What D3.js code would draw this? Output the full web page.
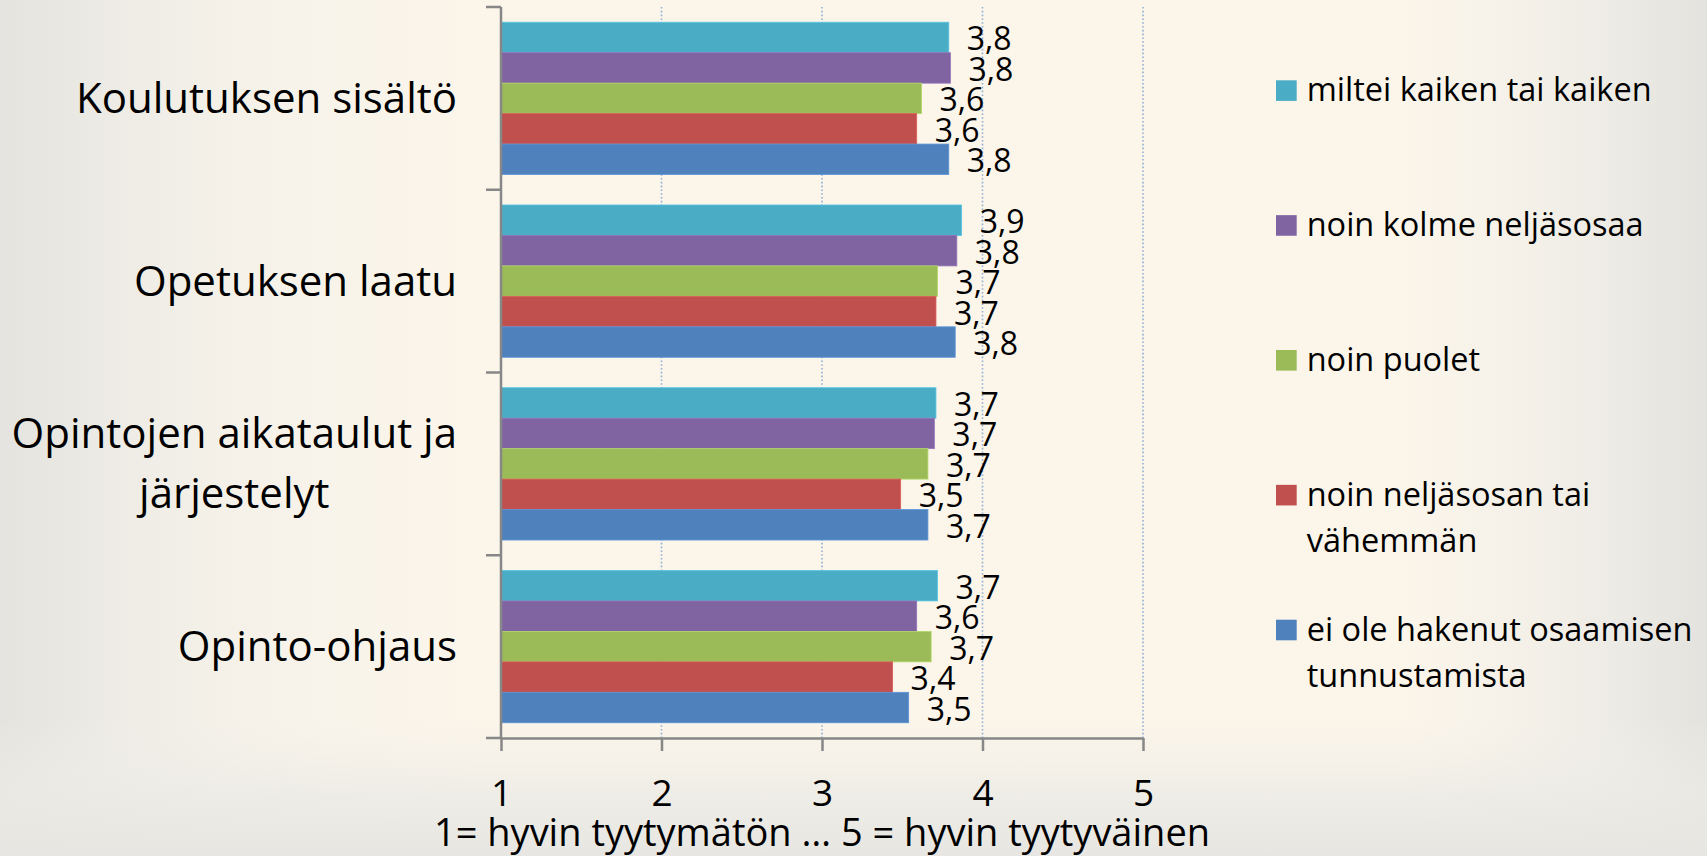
<!DOCTYPE html>
<html><head><meta charset="utf-8">
<script src="https://cdn.jsdelivr.net/npm/d3@7"></script>
<style>
html,body{margin:0;padding:0;overflow:hidden;background:#faf5ea;}
svg text{font-family:"Open Sans","Noto Sans",sans-serif;fill:#000;}
</style></head>
<body><svg id="chart" width="1707" height="856"></svg>
<script>
// ---- data ----
const categories = ["Koulutuksen sisältö", "Opetuksen laatu", "Opintojen aikataulut ja järjestelyt", "Opinto-ohjaus"];
const categoryLines = [["Koulutuksen sisältö"], ["Opetuksen laatu"], ["Opintojen aikataulut ja", "järjestelyt"], ["Opinto-ohjaus"]];
const seriesNames = ["miltei kaiken tai kaiken", "noin kolme neljäsosaa", "noin puolet", "noin neljäsosan tai vähemmän", "ei ole hakenut osaamisen tunnustamista"];
const legendLines = [["miltei kaiken tai kaiken"], ["noin kolme neljäsosaa"], ["noin puolet"], ["noin neljäsosan tai", "vähemmän"], ["ei ole hakenut osaamisen", "tunnustamista"]];
const seriesColors = ["#4bacc6", "#8064a2", "#9bbb59", "#c0504d", "#4f81bd"];
// values per series, in category order
const miltei   = [3.79, 3.87, 3.71, 3.72];
const kolme    = [3.80, 3.84, 3.70, 3.59];
const puolet   = [3.62, 3.72, 3.66, 3.68];
const nelja    = [3.59, 3.71, 3.49, 3.44];
const eiHaettu = [3.79, 3.83, 3.66, 3.54];
const seriesValues = [miltei, kolme, puolet, nelja, eiHaettu];
const xTicks = [1, 2, 3, 4, 5];
const xDomain = [1, 5];
const axisTitle = "1= hyvin tyytymätön … 5 = hyvin tyytyväinen";

// ---- layout ----
const svg = d3.select("#chart");
const W = 1707, H = 856;
const plot = {left: 501, right: 1143, top: 7, bottom: 738};

// background gradients
const defs = svg.append("defs");
function lg(id, x1, y1, x2, y2, stops) {
  const g = defs.append("linearGradient").attr("id", id)
    .attr("x1", x1).attr("y1", y1).attr("x2", x2).attr("y2", y2);
  stops.forEach(s => g.append("stop").attr("offset", s[0]).attr("stop-color", s[1]).attr("stop-opacity", s[2]));
}
lg("gLeft", 0, 0, 1, 0, [[0, "#e4e3df", 1], [0.05, "#e8e7e2", 0.85], [0.14, "#efeee8", 0.5], [0.28, "#f5f3ec", 0]]);
lg("gRight", 0, 0, 1, 0, [[0.82, "#f3f1ea", 0], [0.92, "#ecebe6", 0.7], [1, "#e3e2de", 1]]);
lg("gBottom", 0, 0, 0, 1, [[0.84, "#f1efe8", 0], [0.93, "#ebeae5", 0.8], [1, "#e7e6e2", 1]]);
svg.append("rect").attr("width", W).attr("height", H).attr("fill", "#fbf5ea");
svg.append("rect").attr("width", W).attr("height", H).attr("fill", "url(#gLeft)");
svg.append("rect").attr("width", W).attr("height", H).attr("fill", "url(#gRight)");
svg.append("rect").attr("width", W).attr("height", H).attr("fill", "url(#gBottom)");

// scales
const x = d3.scaleLinear().domain(xDomain).range([plot.left, plot.right]);
const yCat = d3.scaleBand().domain(categories).range([plot.top, plot.bottom]).paddingInner(0).paddingOuter(0);
const ySub = d3.scaleBand().domain(seriesNames).range([0, yCat.bandwidth()]).paddingInner(0).paddingOuter(0.5);

const fmt = d3.formatLocale({decimal: ",", thousands: " ", grouping: [3], currency: ["", "€"]}).format(".1f");

// gridlines (dotted)
svg.append("g").selectAll("line").data(xTicks.filter(t => t !== xDomain[0])).join("line")
  .attr("x1", d => x(d)).attr("x2", d => x(d))
  .attr("y1", plot.top).attr("y2", plot.bottom)
  .attr("stroke", "#8fb0d8").attr("stroke-width", 1.6).attr("stroke-dasharray", "1.6,2.2");

// bars
const rows = [];
categories.forEach((c, ci) => seriesNames.forEach((s, si) => rows.push({c, s, si, v: seriesValues[si][ci]})));
svg.append("g").selectAll("rect").data(rows).join("rect")
  .attr("x", x(xDomain[0]))
  .attr("y", d => yCat(d.c) + ySub(d.s))
  .attr("width", d => x(d.v) - x(xDomain[0]))
  .attr("height", ySub.bandwidth())
  .attr("fill", d => seriesColors[d.si])
  .attr("stroke", d => d3.color(seriesColors[d.si]).brighter(0.4))
  .attr("stroke-width", 0.8);

// data labels
svg.append("g").selectAll("text").data(rows).join("text")
  .attr("x", d => x(d.v) + 18)
  .attr("y", d => yCat(d.c) + ySub(d.s) + ySub.bandwidth() / 2 + 13)
  .attr("font-size", 32)
  .text(d => fmt(d.v));

// x axis
const xAxisG = svg.append("g").attr("transform", `translate(0,${plot.bottom})`)
  .call(d3.axisBottom(x).tickValues(xTicks).tickSize(13).tickSizeOuter(0).tickFormat(d3.format("d")));
xAxisG.select(".domain").attr("stroke", "#878787").attr("stroke-width", 2.5);
xAxisG.selectAll(".tick line").attr("stroke", "#878787").attr("stroke-width", 2.5);
xAxisG.selectAll(".tick text").attr("font-size", 37).attr("dy", 0).attr("y", 68)
  .style("font-family", "'Open Sans','Noto Sans',sans-serif").attr("fill", "#000");

// y axis line and category separators
const boundaries = categories.map(c => yCat(c)).concat([plot.bottom]);
svg.append("line").attr("x1", plot.left).attr("x2", plot.left).attr("y1", plot.top).attr("y2", plot.bottom)
  .attr("stroke", "#878787").attr("stroke-width", 2.5);
svg.append("g").selectAll("line").data(boundaries).join("line")
  .attr("x1", plot.left - 15).attr("x2", plot.left).attr("y1", d => d).attr("y2", d => d)
  .attr("stroke", "#878787").attr("stroke-width", 2.5);

// category labels
const lineH = 60;
categories.forEach((c, ci) => {
  const lines = categoryLines[ci];
  const cy = yCat(c) + yCat.bandwidth() / 2;
  const g = svg.append("g");
  const texts = lines.map((t, li) => g.append("text")
    .attr("font-size", 42)
    .attr("y", cy + 14.6 + (li - (lines.length - 1) / 2) * lineH)
    .text(t));
  // block right-aligned at 457, lines centered within block
  const widths = texts.map(t => t.node().getComputedTextLength());
  const maxW = d3.max(widths);
  const rightEdge = 457;
  texts.forEach((t, i) => t.attr("text-anchor", "middle").attr("x", rightEdge - maxW / 2));
});

// axis title
svg.append("text").attr("x", (plot.left + plot.right) / 2).attr("y", 846)
  .attr("text-anchor", "middle").attr("font-size", 38).text(axisTitle);

// legend
const legY0 = 90.6, legStep = 134.85;
const leg = svg.append("g");
seriesNames.forEach((s, i) => {
  const cy = legY0 + i * legStep;
  leg.append("rect").attr("x", 1276).attr("y", cy - 10.3).attr("width", 20.7).attr("height", 20.6)
    .attr("fill", seriesColors[i]);
  legendLines[i].forEach((t, li) => {
    leg.append("text").attr("x", 1306.7).attr("y", cy + 10.5 + li * 46)
      .attr("font-size", 32.5).text(t);
  });
});
</script></body></html>
